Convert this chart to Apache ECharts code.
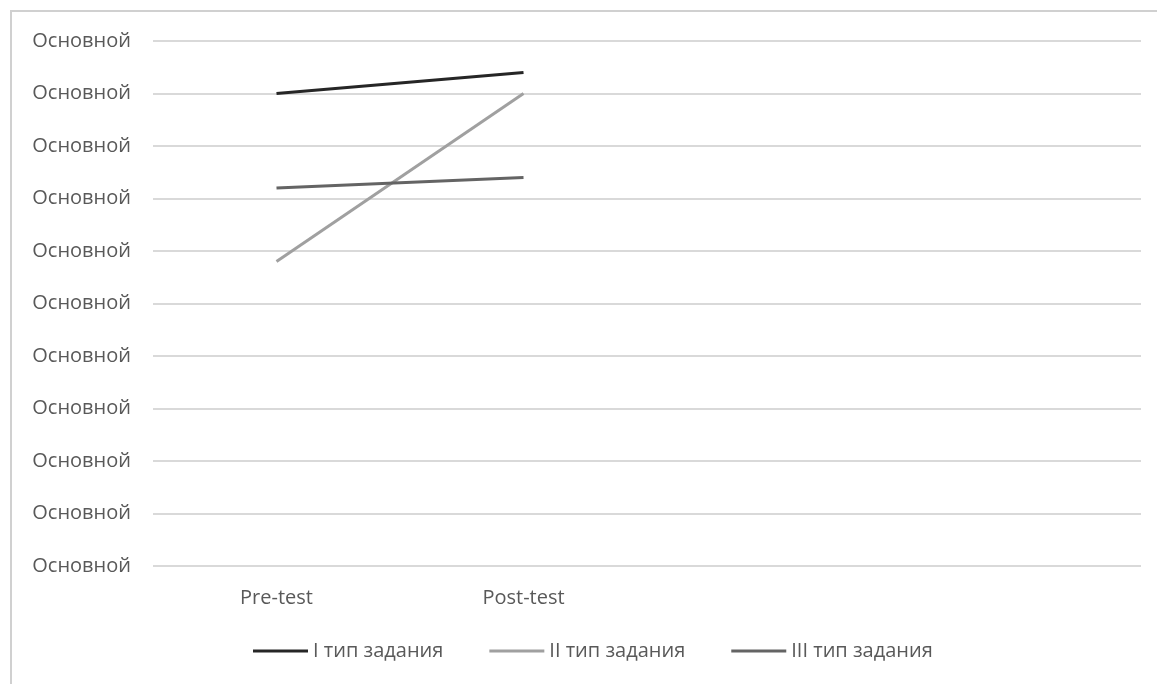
<!DOCTYPE html>
<html><head><meta charset="utf-8">
<script src="https://cdn.jsdelivr.net/npm/echarts@6/dist/echarts.min.js"></script>
<style>html,body{margin:0;padding:0;background:#fff}#c{width:1157px;height:684px}</style>
</head><body><div id="c"></div>
<script>
var categories = ['Pre-test', 'Post-test', '', ''];
var seriesNames = ['I тип задания', 'II тип задания', 'III тип задания'];
var type1 = [9.0, 9.4];
var type2 = [5.8, 9.0];
var type3 = [7.2, 7.4];
var yTickLabel = 'Основной';

var FONT = '"Open Sans", sans-serif';
var chart = echarts.init(document.getElementById('c'), null, {renderer: 'canvas'});
chart.setOption({
  animation: false,
  backgroundColor: '#fff',
  graphic: [{type: 'rect', shape: {x: 11, y: 11, width: 1300, height: 900}, style: {fill: 'none', stroke: '#d0d0d0', lineWidth: 2}, silent: true}],
  grid: {left: 153, right: 16, top: 41, bottom: 118},
  xAxis: {
    type: 'category', data: categories, boundaryGap: true,
    axisLine: {show: false}, axisTick: {show: false},
    axisLabel: {color: '#595959', fontSize: 20, fontFamily: FONT, margin: 22}
  },
  yAxis: {
    type: 'value', min: 0, max: 10, interval: 1,
    axisLine: {show: false}, axisTick: {show: false},
    axisLabel: {color: '#595959', fontSize: 20, fontFamily: FONT, margin: 22, formatter: function () { return yTickLabel; }},
    splitLine: {lineStyle: {color: '#d9d9d9', width: 2}}
  },
  legend: {
    bottom: 23, left: 253, itemWidth: 55, itemHeight: 3, itemGap: 46, icon: 'rect', padding: 0,
    textStyle: {color: '#595959', fontSize: 20, fontFamily: FONT},
    data: seriesNames
  },
  series: [
    {name: seriesNames[0], type: 'line', data: type1, symbol: 'none', lineStyle: {width: 3, color: '#262626'}, itemStyle: {color: '#262626'}},
    {name: seriesNames[1], type: 'line', data: type2, symbol: 'none', lineStyle: {width: 3, color: '#a0a0a0'}, itemStyle: {color: '#a0a0a0'}},
    {name: seriesNames[2], type: 'line', data: type3, symbol: 'none', lineStyle: {width: 3, color: '#646464'}, itemStyle: {color: '#646464'}}
  ]
});
</script></body></html>
